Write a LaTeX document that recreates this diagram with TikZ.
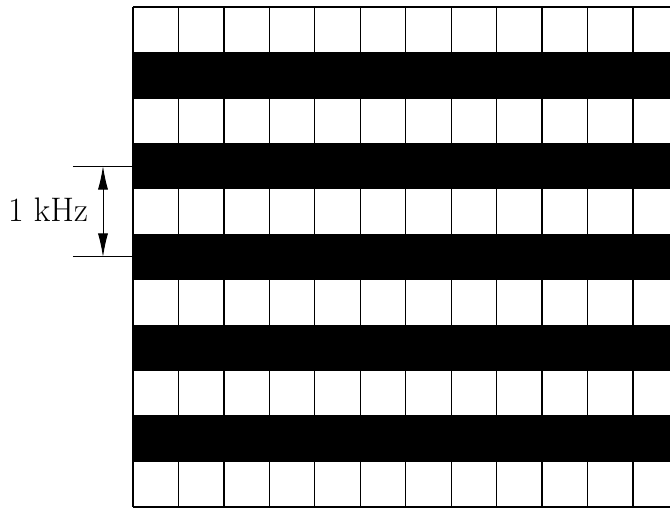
\documentclass[tikz,border=0pt]{standalone}
\usepackage{fontspec}
\usetikzlibrary{arrows.meta}
\begin{document}
\begin{tikzpicture}[
  gridline/.style={line width=0.8pt},
  band/.style={fill=black},
  dimline/.style={line width=0.6pt},
  dimarrow/.style={line width=0.6pt,{Latex[length=14.7pt,width=6.3pt]}-{Latex[length=14.7pt,width=6.3pt]}},
  lbl/.style={font=\fontsize{21.3}{25}\selectfont,inner sep=0pt}
]
\useasboundingbox (-2.926,-0.02) rectangle (11.815,11.154);
\begin{scope}
\clip (-2.926,-0.02) rectangle (11.815,11.154);
% grid
\foreach \x in {0,...,11} \draw[gridline] (\x,0) -- (\x,11);
\foreach \y in {0,...,11} \draw[gridline] (0,\y) -- (12,\y);
% black bands
\foreach \y in {1,3,5,7,9} \fill[band] (-0.0,\y) rectangle (12,\y+1);
\end{scope}
% dimension
\coordinate (t0) at (-1.32,7.5);
\coordinate (t1) at (0,7.5);
\coordinate (b0) at (-1.32,5.5);
\coordinate (b1) at (0,5.5);
\coordinate (at) at (-0.66,7.5);
\coordinate (ab) at (-0.66,5.5);
\draw[dimline] (t0) -- (t1);
\draw[dimline] (b0) -- (b1);
\draw[dimarrow] (at) -- (ab);
\node[lbl] (label) at (-1.87,6.55) {1 kHz};
\end{tikzpicture}
\end{document}
